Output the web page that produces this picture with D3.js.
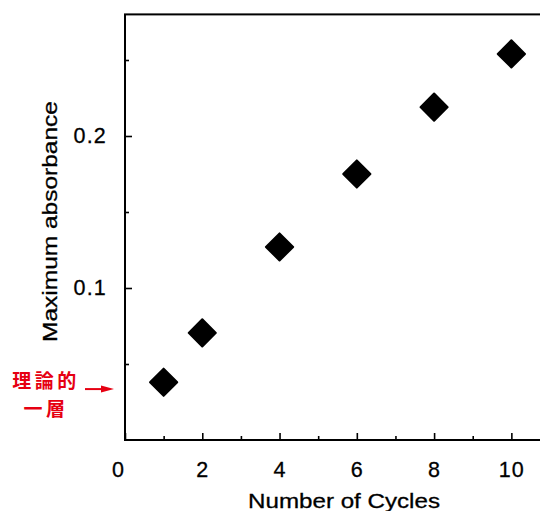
<!DOCTYPE html>
<html>
<head>
<meta charset="utf-8">
<script src="https://cdn.jsdelivr.net/npm/d3@7"></script>
<style>
  html, body { margin: 0; padding: 0; background: #fff; }
  svg { display: block; }
  text { font-family: "Liberation Sans", Arial, sans-serif; fill: #000; }
</style>
</head>
<body>
<div id="chart"></div>
<script>
// data
var cycles = [1, 2, 4, 6, 8, 10];
var absorbance = [0.038, 0.0705, 0.127, 0.175, 0.219, 0.254];
var xMajorTicks = [0, 2, 4, 6, 8, 10];
var xMinorTicks = [1, 3, 5, 7, 9];
var yMajorTicks = [0.1, 0.2];
var yMinorTicks = [0.05, 0.15, 0.25];
var noteLines = ['理論的', '一層'];
var noteValue = 0.0335;

var w = 540, h = 511;

var x = d3.scaleLinear().domain([0, 11]).range([125, 550]);
var y = d3.scaleLinear().domain([0, 0.28]).range([440, 14.4]);

var svg = d3.select('#chart').append('svg')
    .attr('width', w)
    .attr('height', h);

// frame (right side runs off the page)
svg.append('rect')
    .attr('x', x(0))
    .attr('y', y(0.28))
    .attr('width', x(11) - x(0))
    .attr('height', y(0) - y(0.28))
    .attr('fill', 'none')
    .attr('stroke', '#000')
    .attr('stroke-width', 2);

// x axis, ticks point inward
var xAxis = svg.append('g')
    .attr('transform', 'translate(0,' + y(0) + ')')
    .call(d3.axisBottom(x).tickValues(xMajorTicks).tickSize(-7).tickPadding(22).tickFormat(d3.format('d')));
xAxis.append('g')
    .call(d3.axisBottom(x).tickValues(xMinorTicks).tickSize(-4).tickFormat(''));

// y axis
var yAxis = svg.append('g')
    .attr('transform', 'translate(' + x(0) + ',0)')
    .call(d3.axisLeft(y).tickValues(yMajorTicks).tickSize(-7).tickPadding(18).tickFormat(d3.format('.1f')));
yAxis.append('g')
    .call(d3.axisLeft(y).tickValues(yMinorTicks).tickSize(-4).tickFormat(''));

svg.selectAll('.domain').remove();
svg.selectAll('.tick line').attr('stroke', '#000').attr('stroke-width', 1.6);
svg.selectAll('.tick text')
    .attr('font-family', '"Liberation Sans", Arial, sans-serif')
    .style('font-size', '21.5px')
    .style('letter-spacing', '1.2px')
    .style('stroke', '#000')
    .style('stroke-width', '0.3px');

// the "0" label sits a bit left of the axis in the original
xAxis.selectAll('.tick text').filter(function(d){ return d === 0; }).attr('dx', -7);

// axis titles
svg.append('text')
    .attr('x', 248)
    .attr('y', 508)
    .attr('textLength', 192)
    .attr('lengthAdjust', 'spacingAndGlyphs')
    .style('font-size', '21px')
    .style('stroke', '#000')
    .style('stroke-width', '0.3px')
    .text('Number of Cycles');

svg.append('text')
    .attr('transform', 'translate(57,342) rotate(-90)')
    .attr('textLength', 241)
    .attr('lengthAdjust', 'spacingAndGlyphs')
    .style('font-size', '21px')
    .style('stroke', '#000')
    .style('stroke-width', '0.3px')
    .text('Maximum absorbance');

// diamonds
var diamond = d3.symbol().type(d3.symbolSquare).size(370);
svg.selectAll('path.pt')
    .data(cycles)
    .enter()
    .append('path')
    .attr('class', 'pt')
    .attr('d', diamond)
    .attr('transform', function(d, i){
        return 'translate(' + x(d) + ',' + y(absorbance[i]) + ') rotate(45)';
    })
    .attr('fill', '#000')
    .attr('stroke', '#000')
    .attr('stroke-width', 2)
    .attr('stroke-linejoin', 'round');

// red note with arrow
var red = '#e60012';
var noteY = y(noteValue);
svg.selectAll('text.note')
    .data(noteLines)
    .enter()
    .append('text')
    .attr('class', 'note')
    .attr('x', 46)
    .attr('y', function(d, i){ return noteY - 1 + i * 28; })
    .attr('text-anchor', 'middle')
    .style('font-family', '"Noto Sans CJK JP", sans-serif')
    .style('font-size', '19px')
    .style('font-weight', 'bold')
    .style('letter-spacing', '3.5px')
    .style('fill', red)
    .text(function(d){ return d; });

svg.append('line')
    .attr('x1', 85)
    .attr('x2', 102)
    .attr('y1', noteY)
    .attr('y2', noteY)
    .attr('stroke', red)
    .attr('stroke-width', 2);
svg.append('path')
    .attr('d', d3.line()([[101, noteY - 3.5], [114, noteY], [101, noteY + 3.5]]) + 'Z')
    .attr('fill', red);
</script>
</body>
</html>
